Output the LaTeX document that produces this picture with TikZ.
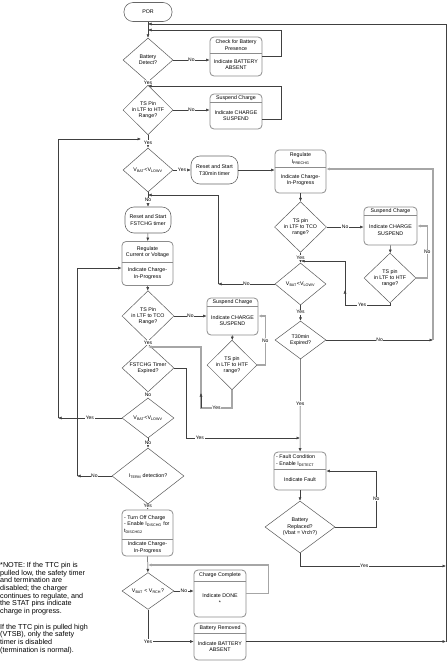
\documentclass[tikz,border=0pt]{standalone}
\usepackage{fontspec}
\setmainfont{Liberation Sans}
\usetikzlibrary{arrows.meta, shapes.geometric, positioning, calc}

\begin{document}
\begin{tikzpicture}[x=1pt, y=1pt,
    txt/.style={font=\fontsize{5.3}{6.3}\selectfont, align=center, inner sep=0pt},
    lbl/.style={font=\fontsize{5}{6}\selectfont, fill=white, inner sep=0.6pt},
    blk/.style={draw=black!45, line width=0.8pt, rounded corners=4pt, minimum width=52},
    bdr/.style={draw=black!45, line width=0.8pt},
    term/.style={draw=black!60, line width=0.6pt, rounded corners=9pt, minimum width=48, minimum height=27, txt},
    dia/.style={diamond, draw=black!65, line width=0.5pt, inner sep=-40pt, txt},
    edge/.style={draw=black!75, line width=0.5pt, -{Latex[length=3.5pt,width=3pt]}},
    edgel/.style={draw=black!35, line width=1.1pt, -{Latex[length=3.5pt,width=3pt]}}]
\useasboundingbox (0,0) rectangle (447,-662);

% junctions on the main lines
\coordinate (j24) at (148,-24);
\coordinate (j30) at (148,-30);
\coordinate (j86) at (148,-86);
\coordinate (j139) at (141,-139);
\coordinate (j195) at (148,-195);
\coordinate (j261) at (301,-261);
\coordinate (j347) at (148,-347);
\coordinate (j438) at (300,-438);
\coordinate (j565) at (148,-565);
\coordinate (jl1) at (58,-418);
\coordinate (jl2) at (77,-476);
\coordinate (jv) at (218,-284);
\coordinate (jt) at (433,-340);
\coordinate (jr1) at (446,-566);
\coordinate (jr2) at (446,-641.5);

% left column
\node[term, minimum height=19] (por) at (148,-12) {POR};
\node[dia, minimum width=50, minimum height=44] (bd) at (148,-60) {Battery\\Detect?};
\node[dia, minimum width=50, minimum height=34] (ts1) at (148,-110) {TS Pin\\in LTF to HTF\\Range?};
\node[dia, minimum width=50, minimum height=44] (vl1) at (148,-170) {V\textsubscript{BAT}<V\textsubscript{LOWV}};
\node[term, minimum width=46, minimum height=26] (rfst) at (148,-220) {Reset and Start\\FSTCHG timer};
\node[blk, minimum width=51, minimum height=44] (reg) at (147.5,-263.5) {};
\node[txt] (reg-h) at (147.5,-252) {Regulate\\Current or Voltage};
\draw[bdr] (reg.west |- 0,-262) -- (reg.east |- 0,-262);
\node[txt] (reg-b) at (147.5,-273.5) {Indicate Charge-\\In-Progress};
\node[dia, minimum width=52, minimum height=42] (ts4) at (148,-316) {TS Pin\\in LTF to TCO\\Range?};
\node[dia, minimum width=52, minimum height=38] (fx) at (148,-368) {FSTCHG Timer\\Expired?};
\node[dia, minimum width=52, minimum height=40] (vl3) at (148,-418) {V\textsubscript{BAT}<V\textsubscript{LOWV}};
\node[dia, minimum width=72, minimum height=56] (iterm) at (148,-476) {I\textsubscript{TERM} detection?};
\node[blk, minimum width=51, minimum height=46] (off) at (147.5,-533) {};
\node[txt, anchor=west, align=left] (off-h) at (124,-524.5) {- Turn Off Charge\\- Enable I\textsubscript{DISCHG} for\\t\textsubscript{DISCHG2}};
\draw[bdr] (off.west |- 0,-539) -- (off.east |- 0,-539);
\node[txt] (off-b) at (147.5,-547.5) {Indicate Charge-\\In-Progress};
\node[dia, minimum width=52, minimum height=36] (vl4) at (148,-591) {V\textsubscript{BAT} < V\textsubscript{RCH}?};

% middle column
\node[blk, minimum height=39] (chk) at (236,-56.5) {};
\node[txt] (chk-h) at (236,-45) {Check for Battery\\Presence};
\draw[bdr] (chk.west |- 0,-53) -- (chk.east |- 0,-53);
\node[txt] (chk-b) at (236,-64.5) {Indicate BATTERY\\ABSENT};
\node[blk, minimum height=35] (sus1) at (236,-111.5) {};
\node[txt] (sus1-h) at (236,-98) {Suspend Charge};
\draw[bdr] (sus1.west |- 0,-102) -- (sus1.east |- 0,-102);
\node[txt] (sus1-b) at (236,-115.5) {Indicate CHARGE\\SUSPEND};
\node[term, minimum width=47, minimum height=28] (t30) at (214.5,-170) {Reset and Start\\T30min timer};
\node[blk, minimum width=51, minimum height=37] (sus3) at (232.5,-316.5) {};
\node[txt] (sus3-h) at (232.5,-302) {Suspend Charge};
\draw[bdr] (sus3.west |- 0,-306) -- (sus3.east |- 0,-306);
\node[txt] (sus3-b) at (232.5,-320.5) {Indicate CHARGE\\SUSPEND};
\node[dia, minimum width=50, minimum height=36] (ts5) at (232,-365) {TS pin\\in LTF to HTF\\range?};
\node[blk, minimum height=47] (done) at (220,-593.5) {};
\node[txt] (done-h) at (220,-575.5) {Charge Complete};
\draw[bdr] (done.west |- 0,-581) -- (done.east |- 0,-581);
\node[txt] (done-b) at (220,-599) {Indicate DONE\\*};
\node[blk, minimum height=37] (brem) at (220,-641.5) {};
\node[txt] (brem-h) at (220,-628) {Battery Removed};
\draw[bdr] (brem.west |- 0,-633) -- (brem.east |- 0,-633);
\node[txt] (brem-b) at (220,-646.5) {Indicate BATTERY\\ABSENT};

% right column
\node[blk, minimum width=51, minimum height=43] (pre) at (300.5,-171.5) {};
\node[txt] (pre-h) at (300.5,-158.5) {Regulate\\I\textsubscript{PRECHG}};
\draw[bdr] (pre.west |- 0,-167) -- (pre.east |- 0,-167);
\node[txt] (pre-b) at (300.5,-180) {Indicate Charge-\\In-Progress};
\node[dia, minimum width=52, minimum height=36] (ts2) at (300.5,-227) {TS pin\\in LTF to TCO\\range?};
\node[blk, minimum width=53, minimum height=38] (sus2) at (390.5,-226) {};
\node[txt] (sus2-h) at (390.5,-211) {Suspend Charge};
\draw[bdr] (sus2.west |- 0,-215) -- (sus2.east |- 0,-215);
\node[txt] (sus2-b) at (390.5,-230) {Indicate CHARGE\\SUSPEND};
\node[dia, minimum width=52, minimum height=46] (ts3) at (390,-278) {TS pin\\in LTF to HTF\\range?};
\node[dia, minimum width=51, minimum height=42] (vl2) at (300.5,-284) {V\textsubscript{BAT}<V\textsubscript{LOWV}};
\node[dia, minimum width=51, minimum height=38] (t30x) at (300.5,-340) {T30min\\Expired?};
\node[blk, minimum height=38] (fault) at (300,-471) {};
\node[txt, anchor=west, align=left] (fault-h) at (276,-460.5) {- Fault Condition\\- Enable I\textsubscript{DETECT}};
\draw[bdr] (fault.west |- 0,-469) -- (fault.east |- 0,-469);
\node[txt] (fault-b) at (300,-479.5) {Indicate Fault};
\node[dia, minimum width=70, minimum height=52] (brep) at (300,-527) {Battery\\Replaced?\\(Vbat = Vrch?)};

% note
\node[anchor=north west, inner sep=0pt, align=left, font=\fontsize{7.2}{7.7}\selectfont] (note) at (0,-562)
  {*NOTE: If the TTC pin is\\pulled low, the safety timer\\and termination are\\disabled; the charger\\continues to regulate, and\\the STAT pins indicate\\charge in progress.\\[7.7pt]If the TTC pin is pulled high\\(VTSB), only the safety\\timer is disabled\\(termination is normal).};

% connectors
\draw[edge] (por) -- (bd);
\draw[edge] (bd) -- node[lbl]{No} (chk.west |- bd.east);
\draw[edge] (chk.east) -- ++(19,0) |- (j30);
\draw[edge] (bd) -- node[lbl, pos=0.2]{Yes} (ts1);
\draw[edge] (ts1) -- node[lbl]{No} (sus1.west |- ts1.east);
\draw[edge] ([yshift=-7.5pt]sus1.east) -- ++(19,0) |- (j86);
\draw[edge] (ts1) -- node[lbl, pos=0.57]{Yes} (vl1);
\draw[edge] (vl1) -- node[lbl]{Yes} (t30);
\draw[edge] (t30) -- (pre.west |- t30.east);
\draw[edge] (vl1) -- node[lbl, pos=0.55]{No} (rfst);
\draw[edge] (rfst) -- (reg);
\draw[edge] (reg) -- (ts4);
\draw[edge] (ts4) -- node[lbl]{No} (sus3.west |- ts4.east);
\draw[edge] (sus3) -- (ts5);
\draw[edgel] (ts5.east) -- ++(8,0) |- node[lbl, pos=0.25]{No} ([yshift=0.5pt]sus3.east);
\draw[edgel] (ts5.south) |- node[lbl, pos=0.75]{Yes} (201,-408) -- (201,-347) -- (j347);
\draw[edge] (201,-408) -- (201,-393);
\draw[edge] (ts4) -- node[lbl, pos=0.33]{Yes} (fx);
\draw[edge] (fx.east) -- ++(12,0) |- node[lbl, pos=0.56]{Yes} (j438);
\draw[edge] (fx) -- node[lbl, pos=0.45]{No} (vl3);
\draw[edge] (vl3.west) -- node[lbl]{Yes} (jl1);
\draw[edge] (jl1) |- (j139);
\draw[edge] (vl3) -- node[lbl]{No} (iterm);
\draw[edge] (iterm.west) -- node[lbl]{No} (jl2);
\draw[edge] (jl2) |- ([yshift=-4.5pt]reg.west);
\draw[edge] (iterm) -- node[lbl, pos=0.35]{Yes} (off);
\draw[edge] (off) -- (vl4);
\draw[edge] (vl4) -- node[lbl]{No} (done.west |- vl4.east);
\draw[edgel] (done.east) -- ++(22,0) |- (j565);
\draw[edge] (vl4) |- node[lbl, pos=0.5]{Yes} (brem);
\draw[edge] (brem) -- (jr2);
\draw[edge] (jr2) |- (j24);
\draw[edge] (pre) -- (ts2);
\draw[edge] (ts2) -- node[lbl]{No} (sus2.west |- ts2.east);
\draw[edge] (sus2) -- (ts3);
\draw[edgel] (ts3.east) -- ++(11,0) |- node[lbl, pos=0.25]{No} (sus2.east);
\draw[edge] (ts3.south) |- node[lbl, pos=0.81]{Yes} (345,-305) -- (345,-261) -- (j261);
\draw[edge] (345,-305) -- (345,-290);
\draw[edge] (ts2) -- node[lbl]{Yes} (vl2);
\draw[edge] (vl2) -- node[lbl]{No} (jv);
\draw[edge] (jv) |- (j195);
\draw[edge] (vl2) -- node[lbl, pos=0.45]{Yes} (t30x);
\draw[edge] (t30x) -- node[lbl]{No} (jt);
\draw[edgel] (jt) |- ([yshift=2.5pt]pre.east);
\draw[edge] (t30x) -- node[lbl, pos=0.48]{Yes} (fault);
\draw[edge] (fault) -- (brep);
\draw[edge] (brep.east) -- ++(41,0) |- node[lbl, pos=0.25]{No} (fault.east);
\draw[edge] (brep.south) |- node[lbl, pos=0.72]{Yes} (jr1);
\end{tikzpicture}
\end{document}
